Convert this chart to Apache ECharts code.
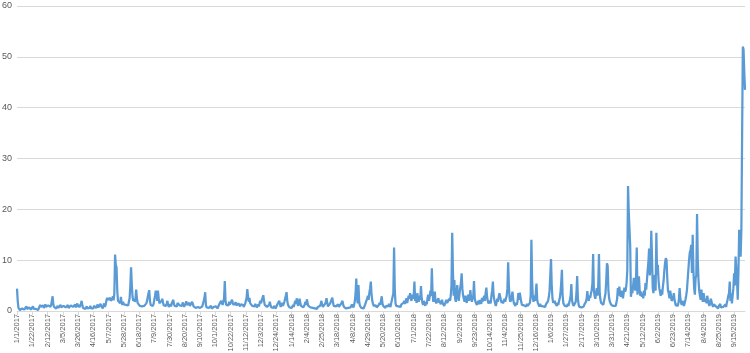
<!DOCTYPE html>
<html>
<head>
<meta charset="utf-8">
<script src="https://cdn.jsdelivr.net/npm/echarts@6/dist/echarts.min.js"></script>
<style>
  html, body { margin: 0; padding: 0; background: #fff; }
  #chart { width: 750px; height: 353px; }
</style>
</head>
<body>
<div id="chart"></div>
<script>
// daily values (one row ~ one 21-day label step)
const values2017 = [
  4.4, 2.0, 0.6, 0.3, 0.2, 0.4, 0.3, 0.5, 0.8, 0.4, 0.3, 0.6, 0.5, 0.9, 0.4, 0.3, 0.5, 0.7, 0.4, 0.3, 0.6,
  0.5, 0.9, 0.4, 0.3, 0.5, 0.4, 0.6, 0.3, 0.2, 0.4, 0.5, 1.2, 0.8, 1.0, 0.7, 1.1, 0.6, 0.9, 1.3, 0.8, 1.0,
  0.7, 1.1, 0.9, 1.4, 0.8, 1.2, 2.0, 2.9, 1.3, 0.8, 0.6, 0.9, 0.5, 0.7, 1.0, 0.6, 0.4, 0.8, 1.2, 0.7, 0.5,
  0.6, 1.0, 0.8, 1.3, 0.7, 0.5, 0.9, 1.2, 0.6, 0.4, 0.7, 1.1, 0.9, 1.4, 0.8, 0.6, 1.0, 1.3, 0.7, 0.9, 1.5,
  0.8, 1.2, 0.7, 1.0, 1.4, 2.0, 1.1, 0.6, 0.5, 0.8, 0.4, 0.6, 0.9, 0.5, 0.3, 0.7, 0.6, 1.0, 0.5, 0.4, 0.8,
  0.5, 1.0, 0.7, 1.2, 0.6, 0.9, 1.3, 0.7, 0.5, 0.8, 1.4, 0.9, 0.6, 0.5, 1.1, 1.5, 0.8, 1.2, 2.0, 2.6, 2.2,
  2.5, 2.2, 2.6, 2.0, 1.8, 2.4, 2.9, 2.1, 3.5, 11.1, 9.0, 8.6, 4.0, 2.0, 1.8, 2.2, 1.5, 2.8, 1.6, 1.2, 1.8,
  1.3, 1.0, 1.6, 1.2, 0.9, 1.4, 1.1, 1.8, 2.5, 5.0, 8.6, 5.2, 2.8, 2.0, 2.4, 1.8, 2.2, 4.2, 2.5, 1.6, 1.3,
  1.5, 1.0, 1.2, 0.8, 0.9, 1.1, 0.7, 1.0, 0.8, 1.2, 1.5, 2.0, 2.8, 3.5, 4.1, 2.0, 1.2, 0.9, 1.3, 1.0, 1.4,
  2.2, 3.0, 4.0, 3.2, 2.0, 4.0, 2.5, 1.5, 1.8, 1.2, 2.0, 2.4, 1.6, 1.1, 0.9, 1.3, 1.0, 1.4, 2.0, 1.2, 0.8,
  1.0, 1.3, 0.9, 1.5, 1.8, 2.2, 1.4, 1.0, 0.8, 1.2, 0.9, 1.6, 1.3, 1.8, 1.1, 0.9, 1.4, 1.0, 1.7, 1.2, 0.8,
  1.1, 1.5, 1.9, 1.2, 0.9, 1.3, 1.6, 1.0, 0.8, 1.2, 1.8, 1.4, 0.9, 0.7, 1.0, 0.6, 0.9, 0.5, 0.8, 1.1, 0.7,
  0.6, 0.8, 0.5, 0.9, 1.2, 2.0, 2.6, 3.7, 1.2, 0.7, 0.5, 0.8, 0.6, 0.4, 0.7, 1.0, 0.5, 0.6, 0.4, 0.8, 0.5,
  0.6, 0.9, 0.7, 0.5, 0.8, 1.2, 0.9, 1.5, 2.0, 1.6, 1.2, 1.8, 2.5, 5.9, 2.0, 1.2, 0.9, 1.5, 1.1, 1.8, 1.3,
  1.0, 1.4, 2.2, 1.6, 1.2, 0.9, 1.3, 1.7, 1.1, 0.8, 1.0, 1.5, 1.2, 0.9, 1.3, 1.0, 1.6, 1.2, 0.8, 1.1, 1.4,
  2.0, 2.6, 4.3, 2.8, 1.8, 2.6, 1.5, 1.2, 1.6, 1.0, 0.8, 1.2, 0.9, 1.4, 1.1, 0.7, 1.0, 1.3, 0.9, 1.6, 2.0,
  1.5, 2.2, 2.5, 3.1, 2.0, 1.2, 0.9, 1.3, 0.8, 0.6, 0.9, 1.2, 1.8, 1.1, 0.7, 0.5, 0.8, 0.6, 1.0, 0.7, 0.5,
  0.8, 1.2, 0.9, 1.5, 2.0, 1.3, 0.8, 1.1
];

const values2018 = [
  1.6, 1.0, 1.3, 1.8, 2.4, 3.0, 3.7, 2.0, 1.2, 0.9, 0.7, 1.0, 0.8,
  0.6, 0.9, 1.2, 0.8, 1.5, 2.0, 1.4, 2.5, 1.6, 1.0, 1.8, 2.4, 1.5, 1.0, 0.8, 1.1, 0.7, 0.9, 1.3, 1.8, 1.2,
  2.3, 1.5, 1.0, 0.8, 1.2, 0.7, 0.5, 0.8, 0.6, 0.4, 0.7, 0.5, 0.3, 0.6, 0.4, 0.8, 0.5, 0.7, 1.0, 1.4, 2.0,
  1.2, 0.8, 0.6, 0.9, 1.4, 1.8, 2.5, 1.6, 0.9, 0.7, 1.0, 1.5, 1.2, 1.8, 2.6, 1.6, 1.0, 0.8, 1.2, 0.9, 0.6,
  0.9, 1.3, 0.8, 0.6, 1.0, 1.4, 1.6, 2.0, 1.2, 0.8, 0.6, 0.9, 0.5, 0.7, 0.4, 0.6, 0.8, 0.5, 0.7, 0.9, 1.3,
  1.0, 0.7, 1.2, 2.0, 3.5, 6.4, 2.5, 1.5, 5.1, 1.8, 1.0, 0.8, 0.6, 0.9, 0.7, 0.5, 0.8, 1.2, 0.9, 1.5, 2.5,
  3.0, 2.2, 3.6, 4.5, 5.8, 3.2, 2.0, 1.4, 1.0, 1.3, 0.9, 1.1, 0.7, 1.0, 0.8, 1.2, 1.6, 1.2, 2.0, 2.9, 1.5,
  1.0, 0.7, 0.9, 0.6, 1.0, 0.8, 1.2, 0.9, 1.4, 1.1, 0.8, 1.5, 1.2, 1.8, 3.5, 12.5, 4.0, 1.5, 1.0, 0.8, 1.2,
  0.9, 0.6, 1.0, 0.8, 1.3, 1.0, 1.2, 1.6, 2.0, 1.4, 1.8, 2.5, 1.6, 2.2, 3.0, 2.4, 3.5, 2.5, 2.0, 3.2, 2.4,
  3.0, 5.8, 2.0, 2.8, 1.6, 3.5, 2.4, 1.8, 3.0, 2.2, 4.9, 2.5, 1.6, 1.2, 2.0, 1.5, 1.0, 1.8, 1.3, 2.5, 3.2,
  2.0, 2.8, 4.0, 3.0, 8.4, 3.5, 1.8, 2.6, 3.8, 2.0, 1.5, 1.2, 1.8, 2.5, 1.6, 2.0, 1.3, 1.8, 2.2, 1.5, 1.2,
  1.0, 1.4, 1.8, 2.2, 1.6, 1.3, 1.9, 2.4, 2.0, 3.0, 5.0, 15.4, 8.0, 3.0, 6.1, 2.5, 1.8, 3.5, 5.1, 2.8, 2.0,
  3.2, 4.5, 5.5, 7.4, 4.4, 3.0, 2.4, 1.8, 3.0, 2.2, 1.6, 2.5, 3.2, 2.0, 2.8, 4.1, 2.6, 1.8, 1.5, 3.0, 5.9,
  2.5, 1.8, 1.5, 1.2, 1.6, 2.0, 1.3, 2.2, 1.8, 1.4, 2.6, 1.9, 2.4, 3.0, 2.0, 3.5, 4.6, 2.8, 2.0, 1.5, 1.2,
  2.0, 1.5, 3.0, 4.0, 5.8, 3.0, 2.2, 1.5, 1.0, 1.6, 2.4, 1.8, 2.8, 3.5, 3.7, 2.2, 1.6, 2.0, 1.5, 1.8, 2.4,
  1.8, 2.5, 3.0, 4.5, 9.6, 5.0, 2.5, 1.8, 2.2, 3.0, 3.8, 2.2, 1.5, 1.2, 1.0, 1.6, 1.2, 2.0, 3.5, 2.2, 3.6,
  3.6, 1.8, 1.2, 0.9, 1.5, 1.1, 0.8, 1.2, 0.9, 1.4, 1.0, 0.8, 1.2, 1.6, 3.0, 14.0, 6.0, 2.5, 1.8, 3.0, 2.0,
  3.5, 5.4, 2.2, 1.5, 1.2, 0.9, 1.4, 1.0, 0.8, 1.2, 0.9, 0.7, 1.1, 0.8, 1.3, 1.0
];

const values2019 = [
  1.5, 2.0, 2.8, 4.0, 7.0,
  10.2, 5.0, 2.5, 1.6, 1.3, 2.0, 1.5, 1.2, 1.0, 1.6, 1.2, 1.9, 2.5, 3.5, 5.5, 8.1, 3.0, 1.5, 1.2, 1.0, 0.8,
  1.2, 0.9, 1.4, 1.0, 1.6, 2.2, 3.0, 5.3, 2.0, 1.4, 1.0, 1.3, 0.9, 1.8, 3.5, 6.9, 2.5, 1.2, 0.8, 0.6, 0.9,
  0.7, 1.0, 0.6, 0.9, 1.3, 1.0, 1.8, 2.4, 3.9, 2.5, 2.0, 3.0, 2.6, 3.5, 4.1, 5.5, 11.2, 4.0, 3.0, 2.4, 3.5,
  4.5, 3.0, 5.0, 11.2, 3.5, 2.2, 1.6, 1.3, 1.8, 1.2, 1.0, 1.5, 3.5, 6.0, 9.4, 8.9, 4.0, 2.5, 1.8, 1.5, 1.2,
  1.0, 1.4, 1.0, 0.8, 1.2, 1.0, 1.6, 2.4, 4.5, 3.0, 4.8, 3.6, 2.8, 4.0, 3.2, 2.5, 3.5, 4.6, 3.8, 4.2, 5.5,
  8.0, 24.6, 19.6, 19.6, 12.7, 2.8, 4.0, 3.5, 5.0, 6.5, 5.2, 4.0, 6.0, 12.5, 3.2, 4.5, 6.8, 4.2, 3.0, 3.8, 2.8,
  3.3, 2.5, 4.0, 3.0, 5.5, 4.2, 6.0, 8.0, 9.5, 12.3, 7.0, 9.0, 15.8, 10.7, 4.5, 3.5, 6.5, 7.1, 4.0, 15.4, 7.1,
  9.1, 6.0, 4.5, 3.8, 3.0, 4.2, 3.2, 4.8, 6.0, 8.0, 9.5, 10.4, 10.0, 6.5, 4.0, 3.5, 2.5, 4.0, 3.2, 2.0, 1.8,
  2.4, 3.5, 2.2, 1.5, 1.0, 1.4, 0.9, 1.3, 2.2, 4.5, 2.5, 1.6, 1.2, 2.0, 1.5, 1.0, 1.6, 2.2, 3.0, 4.0, 6.0,
  8.0, 10.0, 11.5, 12.0, 13.0, 7.5, 15.0, 8.0, 4.5, 3.2, 6.5, 7.0, 19.1, 10.0, 6.1, 4.0, 3.0, 2.2, 4.2, 2.5, 1.8,
  3.5, 2.6, 1.8, 2.2, 1.5, 3.0, 2.2, 1.5, 1.0, 1.6, 2.4, 1.8, 1.2, 0.8, 1.3, 1.0, 1.5, 0.9, 1.2, 0.7, 0.5,
  1.0, 0.8, 1.4, 0.7, 0.6, 1.0, 0.8, 0.5, 0.9, 1.3, 0.8, 1.6, 2.2, 3.0, 3.5, 5.8, 2.0, 3.5, 1.5, 3.0, 4.5,
  7.4, 5.0, 10.7, 10.5, 6.0, 2.2, 8.0, 16.0, 12.0, 10.7, 16.0, 34.0, 52.0, 51.5, 47.0, 43.5
];

const startDate = Date.UTC(2017, 0, 1);
const yTicks = [0, 10, 20, 30, 40, 50, 60];

const values = values2017.concat(values2018, values2019);

// one category per day, labelled like Excel's M/D/YYYY
const categories = values.map((_, i) => {
    const d = new Date(startDate + i * 86400000);
    return (d.getUTCMonth() + 1) + '/' + d.getUTCDate() + '/' + d.getUTCFullYear();
});

const chart = echarts.init(document.getElementById('chart'));

chart.setOption({
    animation: false,
    textStyle: { fontFamily: 'Liberation Sans, Arial, sans-serif' },
    grid: {
        left: 17,
        right: 5,
        top: 6,
        bottom: 42,
        containLabel: false,
        outerBoundsMode: 'none'
    },
    xAxis: {
        type: 'category',
        data: categories,
        boundaryGap: false,
        axisLine: { lineStyle: { color: '#d9d9d9', width: 1 } },
        axisTick: {
            show: true,
            interval: 20,
            length: 4,
            lineStyle: { color: '#d9d9d9' }
        },
        axisLabel: {
            interval: 20,
            rotate: 90,
            fontSize: 7.5,
            color: '#595959',
            margin: 3,
            hideOverlap: false
        },
        splitLine: { show: false }
    },
    yAxis: {
        type: 'value',
        min: yTicks[0],
        max: yTicks[yTicks.length - 1],
        interval: 10,
        axisLine: { show: false },
        axisTick: { show: false },
        axisLabel: { fontSize: 9, color: '#595959', margin: 5 },
        splitLine: { lineStyle: { color: '#d9d9d9', width: 1 } }
    },
    series: [{
        type: 'line',
        data: values,
        showSymbol: false,
        smooth: false,
        lineStyle: { color: '#5b9bd5', width: 2.25 },
        itemStyle: { color: '#5b9bd5' }
    }]
});
</script>
</body>
</html>
